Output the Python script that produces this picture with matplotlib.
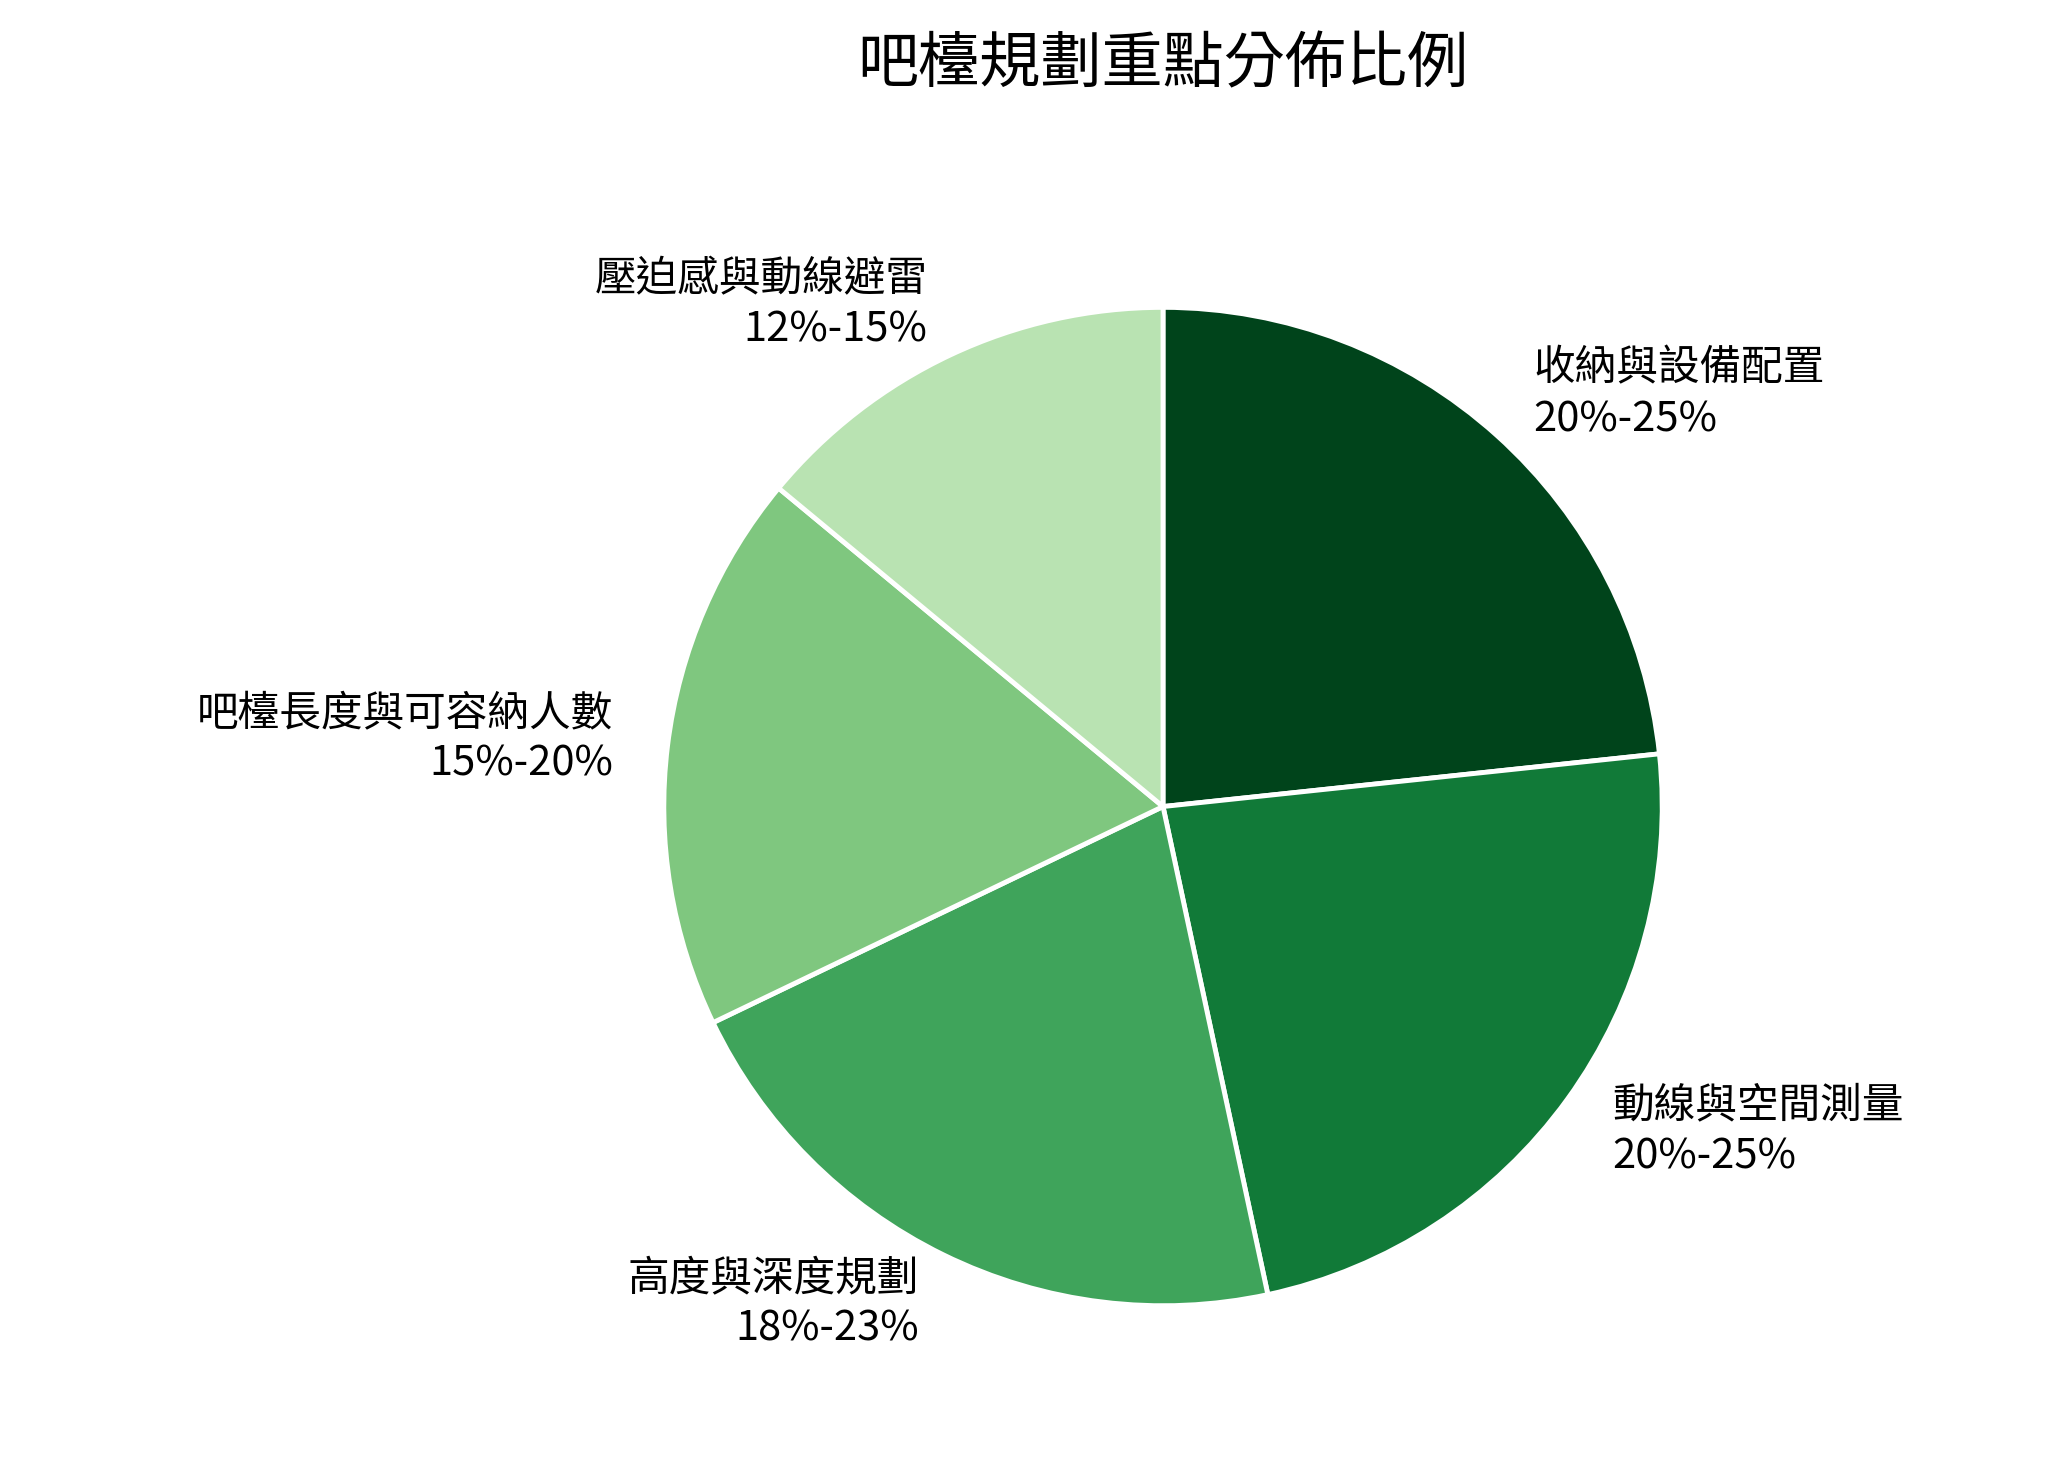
import matplotlib
matplotlib.use("Agg")
import matplotlib.pyplot as plt

plt.rcParams['font.family'] = ['Noto Sans CJK TC', 'DejaVu Sans']

categories = ["收納與設備配置", "動線與空間測量", "高度與深度規劃", "吧檯長度與可容納人數", "壓迫感與動線避雷"]
ranges = ["20%-25%", "20%-25%", "18%-23%", "15%-20%", "12%-15%"]
values = [22.5, 22.5, 20.5, 17.5, 13.5]
colors = ["#00441b", "#117a38", "#3fa45b", "#7fc77f", "#b9e3b2"]
title = "吧檯規劃重點分佈比例"

fig = plt.figure(figsize=(20.49, 14.68), dpi=100)
cx, cy = 890 / 1568, 1 - 617 / 1123
rw, rh = 382 / 1568, 382 / 1123
ax = fig.add_axes([cx - rw, cy - rh, 2 * rw, 2 * rh])
labels = [f"{c}\n{r}" for c, r in zip(categories, ranges)]
wedges, texts = ax.pie(values, colors=colors, startangle=90, counterclock=False,
                       labels=labels, labeldistance=1.11,
                       wedgeprops=dict(edgecolor="white", linewidth=3.5),
                       textprops=dict(fontsize=30, linespacing=1.3))
ax.set_xlim(-1, 1)
ax.set_ylim(-1, 1)
ax.set_aspect('equal')
fig.text(0.5 * (575 + 1205) / 1568, 1 - 50 / 1123, title, ha='center', va='center', fontsize=44)
fig.savefig("out.png", dpi=100)
